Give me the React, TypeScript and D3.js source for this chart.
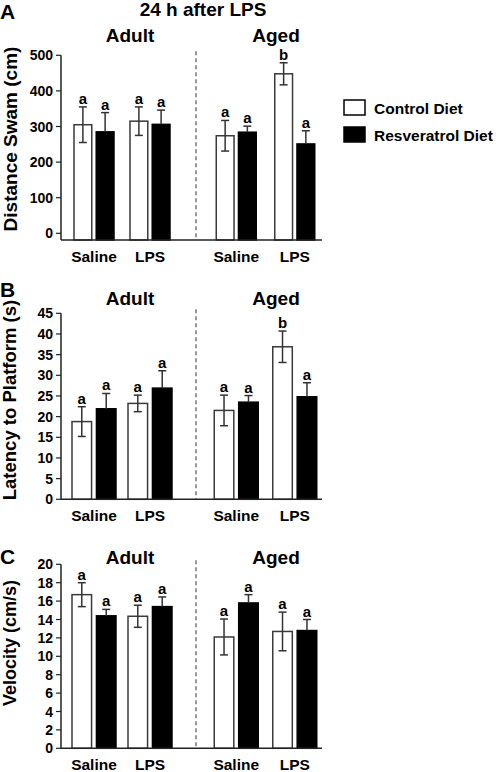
import React from "react";
import * as d3 from "d3";

// ---- Data ----
const ageGroups = ["Adult", "Aged"];
const treatments = ["Saline", "LPS"];
const diets = ["Control Diet", "Resveratrol Diet"];

// order: Adult-Saline-Control, Adult-Saline-Resv, Adult-LPS-Control, Adult-LPS-Resv,
//        Aged-Saline-Control, Aged-Saline-Resv, Aged-LPS-Control, Aged-LPS-Resv
const distanceMean = [305, 285, 315, 306, 274, 284, 448, 251];
const distanceSem = [50, 54, 40, 40, 43, 17, 31, 37];
const distanceLetters = ["a", "a", "a", "a", "a", "a", "b", "a"];
const distanceTicks = [0, 100, 200, 300, 400, 500];

const latencyMean = [18.8, 21.9, 23.2, 26.9, 21.5, 23.5, 36.9, 24.8];
const latencySem = [3.6, 3.7, 2.0, 4.2, 3.7, 1.6, 3.8, 3.4];
const latencyLetters = ["a", "a", "a", "a", "a", "a", "b", "a"];
const latencyTicks = [0, 5, 10, 15, 20, 25, 30, 35, 40, 45];

const velocityMean = [16.7, 14.4, 14.35, 15.4, 12.1, 15.8, 12.7, 12.8];
const velocitySem = [1.3, 0.7, 1.2, 1.05, 1.95, 0.9, 2.1, 1.2];
const velocityLetters = ["a", "a", "a", "a", "a", "a", "a", "a"];
const velocityTicks = [0, 2, 4, 6, 8, 10, 12, 14, 16, 18, 20];

const FONT = "'Liberation Sans', Arial, Helvetica, sans-serif";

type PanelProps = {
  letter: string;
  yLabel: string;
  yLabelSize: number;
  yLabelY: number;
  means: number[];
  sems: number[];
  letters: string[];
  ticks: number[];
  yTop: number;
  yZero: number;
  axisY: number;
  pairW: number;
  groupLabelY: number;
  letterY: number;
};

const axisX = 61;
const axisEndX = 322;
const dividerX = 196;
const halfRanges: Record<string, [number, number]> = {
  Adult: [66, 178],
  Aged: [207, 324],
};
const groupLabelX: Record<string, number> = { Adult: 130, Aged: 276 };

function Panel(p: PanelProps) {
  const y = d3
    .scaleLinear()
    .domain([0, d3.max(p.ticks) as number])
    .range([p.yZero, p.yTop]);

  const xScales = ageGroups.map((g) =>
    d3.scaleBand<string>().domain(treatments).range(halfRanges[g])
  );

  const bars: React.ReactNode[] = [];
  ageGroups.forEach((g, gi) => {
    const xs = xScales[gi];
    treatments.forEach((t, ti) => {
      const c = (xs(t) as number) + xs.bandwidth() / 2;
      const inner = d3
        .scaleBand<string>()
        .domain(diets)
        .range([c - p.pairW / 2, c + p.pairW / 2])
        .paddingInner(0.2);
      diets.forEach((dname, di) => {
        const idx = gi * 4 + ti * 2 + di;
        const m = p.means[idx];
        const s = p.sems[idx];
        const x0 = inner(dname) as number;
        const bw = inner.bandwidth();
        const cx = x0 + bw / 2;
        const top = y(m);
        const isCtrl = di === 0;
        const errTop = y(m + s);
        const errBot = isCtrl ? y(m - s) : top;
        bars.push(
          <g key={`${g}-${t}-${dname}`}>
            <rect
              x={x0}
              y={top}
              width={bw}
              height={p.axisY - top}
              fill={isCtrl ? "#fff" : "#000"}
              stroke={isCtrl ? "#3a3a3a" : "#000"}
              strokeWidth={1.5}
            />
            <line x1={cx} x2={cx} y1={errTop} y2={errBot} stroke="#333" strokeWidth={1.5} />
            <line x1={cx - 4} x2={cx + 4} y1={errTop} y2={errTop} stroke="#333" strokeWidth={1.5} />
            {isCtrl && (
              <line x1={cx - 4} x2={cx + 4} y1={errBot} y2={errBot} stroke="#333" strokeWidth={1.5} />
            )}
            <text
              x={cx}
              y={errTop - 3}
              textAnchor="middle"
              fontSize={15}
              fontWeight="bold"
              fontFamily={FONT}
            >
              {p.letters[idx]}
            </text>
          </g>
        );
      });
    });
  });

  return (
    <g>
      <text x={0} y={p.letterY} fontSize={21} fontWeight="bold" fontFamily={FONT}>
        {p.letter}
      </text>
      <text
        transform={`translate(10,${p.yLabelY}) rotate(-90)`}
        textAnchor="middle"
        dy="0.35em"
        fontSize={p.yLabelSize}
        fontWeight="bold"
        fontFamily={FONT}
      >
        {p.yLabel}
      </text>
      {ageGroups.map((g) => (
        <text
          key={g}
          x={groupLabelX[g]}
          y={p.groupLabelY}
          textAnchor="middle"
          fontSize={19}
          fontWeight="bold"
          fontFamily={FONT}
        >
          {g}
        </text>
      ))}
      {/* dashed divider */}
      <line
        x1={dividerX}
        x2={dividerX}
        y1={p.yTop - 4}
        y2={p.axisY}
        stroke="#777"
        strokeWidth={1.5}
        strokeDasharray="4,3"
      />
      {bars}
      {/* y axis */}
      <line x1={axisX} x2={axisX} y1={p.yTop} y2={p.axisY} stroke="#222" strokeWidth={1.5} />
      {p.ticks.map((t) => (
        <g key={t}>
          <line x1={axisX - 5} x2={axisX} y1={y(t)} y2={y(t)} stroke="#222" strokeWidth={1.2} />
          <text
            x={axisX - 8}
            y={y(t)}
            dy="0.36em"
            textAnchor="end"
            fontSize={14}
            fontWeight="bold"
            fontFamily={FONT}
          >
            {t}
          </text>
        </g>
      ))}
      {/* x axis */}
      <line x1={axisX} x2={axisEndX} y1={p.axisY} y2={p.axisY} stroke="#222" strokeWidth={1.5} />
      {ageGroups.map((g, gi) =>
        treatments.map((t) => {
          const xs = xScales[gi];
          const c = (xs(t) as number) + xs.bandwidth() / 2;
          return (
            <text
              key={`${g}-${t}`}
              x={c}
              y={p.axisY + 22}
              textAnchor="middle"
              fontSize={15.5}
              fontWeight="bold"
              fontFamily={FONT}
            >
              {t}
            </text>
          );
        })
      )}
    </g>
  );
}

export default function App() {
  return (
    <svg
      width={496}
      height={772}
      style={{ position: "absolute", left: 0, top: 0, background: "#fff" }}
    >
      <rect width={496} height={772} fill="#fff" />
      <text x={203} y={16} textAnchor="middle" fontSize={19} fontWeight="bold" fontFamily={FONT}>
        24 h after LPS
      </text>
      <Panel
        letter="A"
        yLabel="Distance Swam (cm)"
        yLabelSize={19}
        yLabelY={139}
        means={distanceMean}
        sems={distanceSem}
        letters={distanceLetters}
        ticks={distanceTicks}
        yTop={55.3}
        yZero={233.3}
        axisY={240}
        pairW={40}
        groupLabelY={42}
        letterY={19}
      />
      <Panel
        letter="B"
        yLabel="Latency to Platform (s)"
        yLabelSize={18.5}
        yLabelY={400}
        means={latencyMean}
        sems={latencySem}
        letters={latencyLetters}
        ticks={latencyTicks}
        yTop={313.3}
        yZero={499.3}
        axisY={499.3}
        pairW={44}
        groupLabelY={305}
        letterY={297}
      />
      <Panel
        letter="C"
        yLabel="Velocity (cm/s)"
        yLabelSize={18}
        yLabelY={643}
        means={velocityMean}
        sems={velocitySem}
        letters={velocityLetters}
        ticks={velocityTicks}
        yTop={564.3}
        yZero={748.3}
        axisY={748.3}
        pairW={44}
        groupLabelY={563.5}
        letterY={563.5}
      />
      {/* legend */}
      <rect x={344} y={100} width={21} height={15} fill="#fff" stroke="#000" strokeWidth={1.5} />
      <text x={374} y={114} fontSize={15.5} fontWeight="bold" fontFamily={FONT}>
        {diets[0]}
      </text>
      <rect x={344} y={127} width={21} height={15} fill="#000" stroke="#000" strokeWidth={1.5} />
      <text x={374} y={140.5} fontSize={15.5} fontWeight="bold" fontFamily={FONT}>
        {diets[1]}
      </text>
    </svg>
  );
}
